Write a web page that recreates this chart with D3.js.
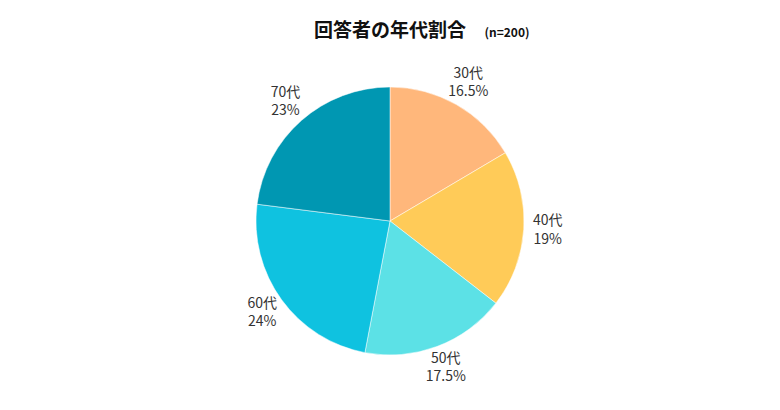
<!DOCTYPE html>
<html>
<head>
<meta charset="utf-8">
<script src="https://cdn.jsdelivr.net/npm/d3@7"></script>
<style>
  body { margin: 0; background: #fff; }
  text { font-family: "Noto Sans CJK JP", "Noto Sans", sans-serif; }
</style>
</head>
<body>
<script>
// Data
const ages = ["30代", "40代", "50代", "60代", "70代"];
const shares = [16.5, 19, 17.5, 24, 23];
const colors = ["#FFB77B", "#FFCB58", "#5CE1E6", "#0FC2E0", "#0097B2"];

const w = 780;
const h = 410;
const cx = 390;
const cy = 221;
const r = 134;
const labelR = 158;

const svg = d3.select("body").append("svg").attr("width", w).attr("height", h);

// Title
svg.append("text")
  .attr("x", 390)
  .attr("y", 37)
  .attr("text-anchor", "middle")
  .style("font-size", "19px")
  .style("font-weight", "bold")
  .attr("fill", "#111")
  .text("回答者の年代割合");

svg.append("text")
  .attr("x", 507)
  .attr("y", 37)
  .attr("text-anchor", "middle")
  .style("font-size", "12px")
  .style("font-weight", "bold")
  .attr("fill", "#111")
  .text("(n=200)");

const pie = d3.pie().sort(null).value((d) => d)(shares);
const arc = d3.arc().innerRadius(0).outerRadius(r);
const labelArc = d3.arc().innerRadius(labelR).outerRadius(labelR);

const g = svg.append("g").attr("transform", `translate(${cx},${cy})`);

g.selectAll("path")
  .data(pie)
  .enter()
  .append("path")
  .attr("d", arc)
  .attr("fill", (d, i) => colors[i])
  .attr("stroke", "#fff")
  .attr("stroke-width", 0.5);

// Labels
const labels = g.selectAll(".label")
  .data(pie)
  .enter()
  .append("text")
  .attr("class", "label")
  .attr("transform", (d) => `translate(${labelArc.centroid(d)})`)
  .attr("text-anchor", "middle")
  .style("font-size", "14px")
  .attr("fill", "#333");

labels.append("tspan")
  .attr("x", 0)
  .attr("dy", "-0.4em")
  .text((d, i) => ages[i]);

labels.append("tspan")
  .attr("x", 0)
  .attr("dy", "1.3em")
  .text((d, i) => `${shares[i]}%`);
</script>
</body>
</html>
